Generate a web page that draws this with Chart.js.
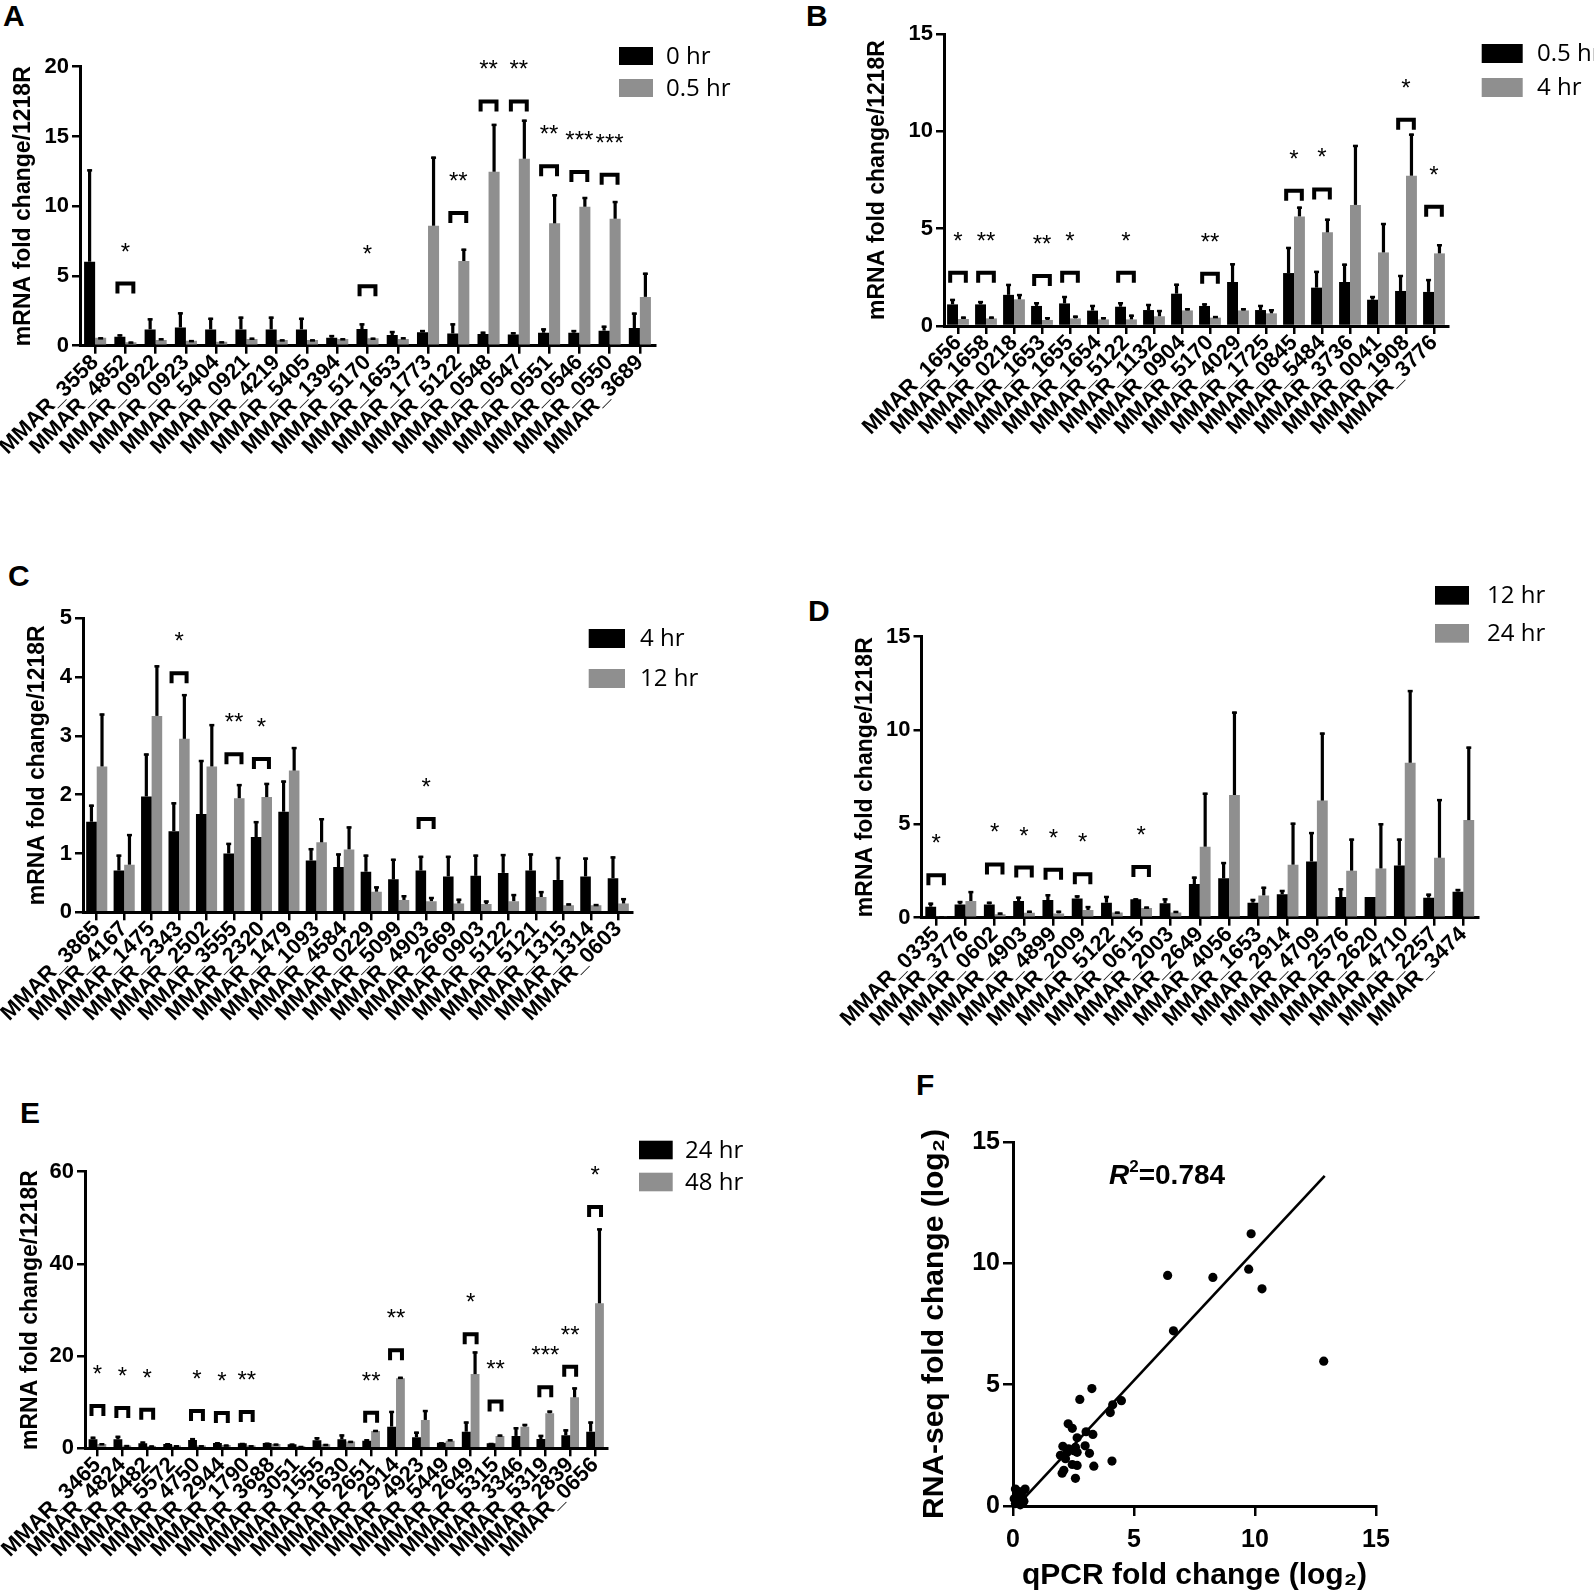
<!DOCTYPE html>
<html><head><meta charset="utf-8">
<script src="https://cdn.jsdelivr.net/npm/chart.js@4.4.1/dist/chart.umd.min.js"></script>
<style>
html,body{margin:0;padding:0;background:#fff;}
body{width:1594px;height:1594px;position:relative;overflow:hidden;}
canvas{position:absolute;}
.lbl{position:absolute;font:bold 30px 'Liberation Sans',Arial,sans-serif;line-height:30px;color:#000;}
</style></head><body>
<div class="lbl" style="left:3px;top:1px">A</div>
<div class="lbl" style="left:806px;top:1px">B</div>
<div class="lbl" style="left:8px;top:561px">C</div>
<div class="lbl" style="left:808px;top:596px">D</div>
<div class="lbl" style="left:20px;top:1098px">E</div>
<div class="lbl" style="left:916px;top:1070px">F</div>
<canvas id="cA" width="800" height="500" style="left:0;top:0"></canvas>
<canvas id="cB" width="794" height="500" style="left:800px;top:0"></canvas>
<canvas id="cC" width="800" height="520" style="left:0;top:540px"></canvas>
<canvas id="cD" width="794" height="520" style="left:800px;top:540px"></canvas>
<canvas id="cE" width="800" height="534" style="left:0;top:1060px"></canvas>
<canvas id="cF" width="794" height="554" style="left:800px;top:1040px"></canvas>
<script>
// ---------- Panel A ----------
const labelsA = ['MMAR_3558','MMAR_4852','MMAR_0922','MMAR_0923','MMAR_5404','MMAR_0921','MMAR_4219','MMAR_5405','MMAR_1394','MMAR_5170','MMAR_1653','MMAR_1773','MMAR_5122','MMAR_0548','MMAR_0547','MMAR_0551','MMAR_0546','MMAR_0550','MMAR_3689'];
const seriesA = ['0 hr','0.5 hr'];
const a0 = [6.02,0.65,1.17,1.31,1.17,1.17,1.17,1.17,0.57,1.19,0.76,0.96,0.88,0.84,0.81,0.93,0.93,1.08,1.27];
const a0sd = [6.62,0.16,0.79,1.08,0.83,0.91,0.91,0.83,0.19,0.41,0.29,0.16,0.72,0.16,0.15,0.31,0.19,0.35,1.1];
const a1 = [0.57,0.24,0.41,0.36,0.29,0.48,0.41,0.41,0.48,0.53,0.48,8.6,6.07,12.47,13.4,8.77,9.96,9.1,3.5];
const a1sd = [0.03,0.05,0.12,0.04,0.02,0.09,0.04,0.04,0.05,0.04,0.12,4.95,0.88,3.43,2.8,2.08,0.7,1.27,1.73];
const sigIdxA = [1,9,12,13,14,15,16,17];
const sigLvlA = [4.6,4.4,9.65,17.65,17.65,13.0,12.6,12.4];
const sigStarA = ['*','*','**','**','**','**','***','***'];
const ticksA = {max:20, step:5};

// ---------- Panel B ----------
const labelsB = ['MMAR_1656','MMAR_1658','MMAR_0218','MMAR_1653','MMAR_1655','MMAR_1654','MMAR_5122','MMAR_1132','MMAR_0904','MMAR_5170','MMAR_4029','MMAR_1725','MMAR_0845','MMAR_5484','MMAR_3736','MMAR_0041','MMAR_1908','MMAR_3776'];
const seriesB = ['0.5 hr','4 hr'];
const b0 = [1.11,1.11,1.6,1.03,1.16,0.79,0.99,0.82,1.66,1.03,2.26,0.82,2.72,1.97,2.26,1.35,1.8,1.75];
const b0sd = [0.28,0.17,0.56,0.19,0.38,0.29,0.23,0.31,0.51,0.13,0.96,0.26,1.34,0.86,0.94,0.19,0.82,0.66];
const b1 = [0.36,0.39,1.37,0.31,0.39,0.34,0.34,0.5,0.8,0.43,0.8,0.65,5.63,4.81,6.22,3.78,7.72,3.73];
const b1sd = [0.12,0.09,0.27,0.14,0.14,0.11,0.24,0.32,0.11,0.08,0.11,0.21,0.5,0.7,3.08,1.51,2.16,0.47];
const sigIdxB = [0,1,3,4,6,9,12,13,16,17];
const sigLvlB = [2.84,2.84,2.67,2.84,2.84,2.79,7.05,7.12,10.7,6.23];
const sigStarB = ['*','**','**','*','*','**','*','*','*','*'];
const ticksB = {max:15, step:5};

// ---------- Panel C ----------
const labelsC = ['MMAR_3865','MMAR_4167','MMAR_1475','MMAR_2343','MMAR_2502','MMAR_3555','MMAR_2320','MMAR_1479','MMAR_1093','MMAR_4584','MMAR_0229','MMAR_5099','MMAR_4903','MMAR_2669','MMAR_0903','MMAR_5122','MMAR_5121','MMAR_1315','MMAR_1314','MMAR_0603'];
const seriesC = ['4 hr','12 hr'];
const c0 = [1.54,0.71,1.97,1.38,1.67,1.0,1.28,1.71,0.88,0.77,0.69,0.56,0.71,0.61,0.62,0.67,0.71,0.55,0.61,0.58];
const c0sd = [0.29,0.27,0.73,0.49,0.92,0.18,0.27,0.53,0.21,0.23,0.29,0.35,0.25,0.35,0.36,0.32,0.29,0.39,0.32,0.37];
const c1 = [2.48,0.81,3.34,2.95,2.48,1.94,1.96,2.41,1.19,1.07,0.35,0.21,0.19,0.15,0.14,0.19,0.26,0.12,0.12,0.15];
const c1sd = [0.9,0.52,0.86,0.76,0.72,0.24,0.24,0.4,0.41,0.39,0.09,0.08,0.07,0.08,0.06,0.12,0.1,0.03,0.02,0.09];
const sigIdxC = [3,5,6,12];
const sigLvlC = [4.1,2.72,2.64,1.62];
const sigStarC = ['*','**','*','*'];
const ticksC = {max:5, step:1};

// ---------- Panel D ----------
const labelsD = ['MMAR_0335','MMAR_3776','MMAR_0602','MMAR_4903','MMAR_4899','MMAR_2009','MMAR_5122','MMAR_0615','MMAR_2003','MMAR_2649','MMAR_4056','MMAR_1653','MMAR_2914','MMAR_4709','MMAR_2576','MMAR_2620','MMAR_4710','MMAR_2257','MMAR_3474'];
const seriesD = ['12 hr','24 hr'];
const d0 = [0.59,0.71,0.71,0.89,0.94,1.03,0.8,0.98,0.77,1.8,2.1,0.8,1.25,3.0,1.1,1.1,2.78,1.07,1.39];
const d0sd = [0.21,0.18,0.14,0.23,0.31,0.16,0.36,0.05,0.26,0.39,0.87,0.2,0.23,1.57,0.47,0,1.44,0.21,0.14];
const d1 = [0.05,0.89,0.18,0.27,0.23,0.41,0.28,0.52,0.28,3.79,6.55,1.19,2.83,6.25,2.51,2.63,8.27,3.2,5.21];
const d1sd = [0.02,0.53,0.09,0.1,0.14,0.21,0.04,0.07,0.08,2.88,4.45,0.46,2.24,3.63,1.71,2.41,3.88,3.13,3.92];
const sigIdxD = [0,2,3,4,5,7];
const sigLvlD = [2.37,2.95,2.78,2.67,2.42,2.81];
const sigStarD = ['*','*','*','*','*','*'];
const ticksD = {max:15, step:5};

// ---------- Panel E ----------
const labelsE = ['MMAR_3465','MMAR_4824','MMAR_4482','MMAR_5572','MMAR_4750','MMAR_2944','MMAR_1790','MMAR_3688','MMAR_3051','MMAR_1555','MMAR_1630','MMAR_2651','MMAR_2914','MMAR_4923','MMAR_5449','MMAR_2649','MMAR_5315','MMAR_3346','MMAR_5319','MMAR_2839','MMAR_0656'];
const seriesE = ['24 hr','48 hr'];
const e0 = [1.95,1.95,1.1,0.95,1.8,1.15,1.1,1.15,0.87,1.75,1.95,1.66,4.7,2.4,1.23,3.6,1.08,2.68,2.0,2.82,3.6];
const e0sd = [0.55,0.75,0.35,0.15,0.4,0.15,0.05,0.05,0.13,0.65,1.05,0.29,3.4,1.2,0.07,2.2,0.07,1.88,0.9,1.28,2.2];
const e1 = [0.94,0.6,0.5,0.6,0.6,0.72,0.6,0.94,0.43,0.87,1.45,3.76,15.2,6.15,1.66,16.1,2.68,4.7,7.6,11.06,31.45];
const e1sd = [0.16,0.1,0.1,0.05,0.05,0.08,0.05,0.06,0.07,0.07,0.15,0.22,0.3,2.15,0.29,4.9,0.28,0.58,0.57,2.14,16.25];
const sigIdxE = [0,1,2,4,5,6,11,12,15,16,18,19,20];
const sigLvlE = [9.6,9.2,8.8,8.5,8.1,8.3,8.17,21.7,25.2,10.6,13.7,18.1,52.8];
const sigStarE = ['*','*','*','*','*','**','**','**','*','**','***','**','*'];
const ticksE = {max:60, step:20};

// ---------- Panel F ----------
const qpcrF = [9.84,6.39,8.26,9.74,10.29,6.63,12.84,3.26,2.76,4.48,4.12,4.02,2.28,2.45,3.02,3.3,2.65,2.98,2.06,2.51,2.24,2.65,3.16,1.96,2.17,4.09,2.45,2.65,3.34,2.1,2.03,2.58,2.3,2.58,0.1,0.2,0.4,0.2,0.1,0.3,0.5,0.4,0.15,0.3,0.45,0.05];
const rnaF  = [11.22,9.5,9.42,9.76,8.95,7.22,5.97,4.84,4.39,4.34,4.17,3.85,3.39,3.2,3.06,2.95,2.81,2.48,2.46,2.28,2.21,2.21,2.17,2.09,1.95,1.85,1.71,1.67,1.64,1.47,1.35,1.14,2.35,2.42,0.7,0.6,0.3,0.2,0.1,0.5,0.7,0.6,0.4,0.05,0.2,0.3];
const fitX = [0.3,12.88];
const fitY = [0.15,13.6];
const r2Text = '0.784';

const BLACK = '#000000', GRAY = '#8f8f8f';
const FONT = "'Liberation Sans', Arial, sans-serif";

const errBarPlugin = {
  id: 'errbars',
  afterDatasetsDraw(chart) {
    const ctx = chart.ctx, ys = chart.scales.y;
    chart.data.datasets.forEach((ds, i) => {
      if (!ds.sd) return;
      const meta = chart.getDatasetMeta(i);
      meta.data.forEach((bar, j) => {
        const sd = ds.sd[j];
        if (!sd) return;
        const top = ys.getPixelForValue(ds.data[j] + sd);
        ctx.save();
        ctx.strokeStyle = BLACK;
        ctx.lineWidth = 3.2;
        ctx.beginPath(); ctx.moveTo(bar.x, bar.y); ctx.lineTo(bar.x, top); ctx.stroke();
        ctx.lineWidth = 2.5;
        ctx.beginPath(); ctx.moveTo(bar.x - 2.5, top + 1); ctx.lineTo(bar.x + 2.5, top + 1); ctx.stroke();
        ctx.restore();
      });
    });
  }
};

function makeBrackets(idx, lvl, stars) {
  return {
    id: 'brackets',
    afterDatasetsDraw(chart) {
      const ctx = chart.ctx, ys = chart.scales.y;
      const m0 = chart.getDatasetMeta(0), m1 = chart.getDatasetMeta(1);
      idx.forEach((ci, k) => {
        const e0 = m0.data[ci], e1 = m1.data[ci];
        const cx = (e0.x + e1.x) / 2, hw = e0.width * 0.9;
        const top = ys.getPixelForValue(lvl[k]);
        ctx.save();
        ctx.strokeStyle = BLACK; ctx.lineWidth = 4; ctx.lineJoin = 'miter'; ctx.lineCap = 'butt';
        ctx.beginPath();
        ctx.moveTo(cx - hw + 2, top + 12);
        ctx.lineTo(cx - hw + 2, top + 2);
        ctx.lineTo(cx + hw - 2, top + 2);
        ctx.lineTo(cx + hw - 2, top + 12);
        ctx.stroke();
        ctx.fillStyle = BLACK;
        ctx.font = '24px ' + FONT;
        ctx.textAlign = 'center'; ctx.textBaseline = 'alphabetic';
        ctx.fillText(stars[k], cx, top - 22);
        ctx.restore();
      });
    }
  };
}

function makeLegend(pos) {
  return {
    id: 'customLegend',
    afterDraw(chart) {
      const ctx = chart.ctx;
      chart.data.datasets.forEach((ds, i) => {
        const y = pos.y + i * pos.row;
        ctx.save();
        ctx.fillStyle = ds.backgroundColor;
        ctx.fillRect(pos.x, y, pos.w, pos.h);
        ctx.fillStyle = BLACK;
        ctx.font = "24px 'Open Sans', 'Liberation Sans', sans-serif";
        ctx.textAlign = 'left'; ctx.textBaseline = 'middle';
        ctx.fillText(ds.label, pos.tx, y + pos.h / 2 + 1);
        ctx.restore();
      });
    }
  };
}

function barChart(id, labels, names, s0, s0sd, s1, s1sd, tk, sig, geo, leg) {
  const ctx = document.getElementById(id).getContext('2d');
  return new Chart(ctx, {
    type: 'bar',
    data: {
      labels: labels,
      datasets: [
        {label: names[0], data: s0, sd: s0sd, backgroundColor: BLACK, borderWidth: 0, categoryPercentage: geo.cat, barPercentage: 1},
        {label: names[1], data: s1, sd: s1sd, backgroundColor: GRAY, borderWidth: 0, categoryPercentage: geo.cat, barPercentage: 1}
      ]
    },
    options: {
      responsive: false, animation: false, events: [],
      layout: {padding: {left: 0, top: geo.top, right: geo.right, bottom: geo.bottom}},
      plugins: {legend: {display: false}, tooltip: {enabled: false}},
      scales: {
        x: {
          offset: true,
          grid: {display: true, drawOnChartArea: false, offset: false, tickLength: 8, lineWidth: 2.5, color: BLACK},
          border: {display: true, width: 3, color: BLACK},
          ticks: {autoSkip: false, minRotation: 45, maxRotation: 45, color: BLACK, padding: geo.xpad,
                  font: {family: FONT, weight: 'bold', size: 22}},
          afterFit(s) { s.height = geo.xh; s.paddingLeft = 0; s.paddingRight = 0; }
        },
        y: {
          min: 0, max: tk.max,
          ticks: {stepSize: tk.step, color: BLACK, padding: 3, font: {family: FONT, weight: 'bold', size: 22}},
          grid: {display: true, drawOnChartArea: false, tickLength: 8, lineWidth: 2.5, color: BLACK},
          border: {display: true, width: 3, color: BLACK},
          title: {display: true, text: 'mRNA fold change/1218R', color: BLACK,
                  font: {family: FONT, weight: 'bold', size: 23, lineHeight: 1}, padding: {top: geo.tpad, bottom: 0}},
          afterFit(s) { s.width = geo.yw; s.paddingTop = 0; s.paddingBottom = 0; }
        }
      }
    },
    plugins: [errBarPlugin, makeBrackets(sig[0], sig[1], sig[2]), makeLegend(leg)]
  });
}

barChart('cA', labelsA, seriesA, a0, a0sd, a1, a1sd, ticksA, [sigIdxA, sigLvlA, sigStarA],
  {cat: 0.73, top: 66.7, right: 145, bottom: 14.3, xh: 140, yw: 80, tpad: 12.5, xpad: -4},
  {x: 619, y: 47, w: 34, h: 18, row: 32, tx: 666});
barChart('cB', labelsB, seriesB, b0, b0sd, b1, b1sd, ticksB, [sigIdxB, sigLvlB, sigStarB],
  {cat: 0.78, top: 34, right: 146, bottom: 34, xh: 140, yw: 144, tpad: 66.5, xpad: -4},
  {x: 681.7, y: 44, w: 41, h: 19, row: 34, tx: 737});
barChart('cC', labelsC, seriesC, c0, c0sd, c1, c1sd, ticksC, [sigIdxC, sigLvlC, sigStarC],
  {cat: 0.77, top: 78.3, right: 168, bottom: 7.7, xh: 140, yw: 83, tpad: 26.5, xpad: -4},
  {x: 588.7, y: 89, w: 36.3, h: 19, row: 40, tx: 640});
barChart('cD', labelsD, seriesD, d0, d0sd, d1, d1sd, ticksD, [sigIdxD, sigLvlD, sigStarD],
  {cat: 0.74, top: 96.7, right: 116, bottom: 2.3, xh: 140, yw: 121.5, tpad: 54.5, xpad: -4},
  {x: 635, y: 46, w: 34, h: 18.7, row: 38, tx: 687});
barChart('cE', labelsE, seriesE, e0, e0sd, e1, e1sd, ticksE, [sigIdxE, sigLvlE, sigStarE],
  {cat: 0.71, top: 111.7, right: 192.5, bottom: 5.7, xh: 140, yw: 85, tpad: 19.5, xpad: -4},
  {x: 639, y: 80.7, w: 33.7, h: 18.6, row: 32, tx: 685});

// ---------- Scatter F ----------
const r2Plugin = {
  id: 'r2',
  afterDraw(chart) {
    const ctx = chart.ctx, a = chart.chartArea;
    let x = a.left + 96, y = a.top + 41.6;
    ctx.save();
    ctx.fillStyle = BLACK; ctx.textBaseline = 'alphabetic'; ctx.textAlign = 'left';
    ctx.font = 'italic bold 28px ' + FONT;
    ctx.fillText('R', x, y); x += ctx.measureText('R').width;
    ctx.font = 'bold 17px ' + FONT;
    ctx.fillText('2', x, y - 12); x += ctx.measureText('2').width;
    ctx.font = 'bold 28px ' + FONT;
    ctx.fillText('=' + r2Text, x, y);
    ctx.restore();
  }
};
new Chart(document.getElementById('cF').getContext('2d'), {
  type: 'scatter',
  data: {
    datasets: [
      {type: 'scatter', data: qpcrF.map((v, i) => ({x: v, y: rnaF[i]})), pointRadius: 4.6, backgroundColor: BLACK, borderWidth: 0, clip: false},
      {type: 'line', data: fitX.map((v, i) => ({x: v, y: fitY[i]})), borderColor: BLACK, borderWidth: 2.6, pointRadius: 0, fill: false, clip: false}
    ]
  },
  options: {
    responsive: false, animation: false, events: [],
    layout: {padding: {left: 0, top: 102, right: 218, bottom: 0}},
    plugins: {legend: {display: false}, tooltip: {enabled: false}},
    scales: {
      x: {
        type: 'linear', min: 0, max: 15,
        ticks: {stepSize: 5, color: BLACK, padding: 9, font: {family: FONT, weight: 'bold', size: 25}},
        grid: {display: true, drawOnChartArea: false, tickLength: 10, lineWidth: 2.5, color: BLACK},
        border: {display: true, width: 3, color: BLACK},
        title: {display: true, text: 'qPCR fold change (log\u2082)', color: BLACK,
                font: {family: FONT, weight: 'bold', size: 30, lineHeight: 1}, padding: {top: 0, bottom: 3}},
        afterFit(s) { s.height = 88; s.paddingLeft = 0; s.paddingRight = 0; }
      },
      y: {
        type: 'linear', min: 0, max: 15,
        ticks: {stepSize: 5, color: BLACK, padding: 3, font: {family: FONT, weight: 'bold', size: 25}},
        grid: {display: true, drawOnChartArea: false, tickLength: 10, lineWidth: 2.5, color: BLACK},
        border: {display: true, width: 3, color: BLACK},
        title: {display: true, text: 'RNA-seq fold change (log\u2082)', color: BLACK,
                font: {family: FONT, weight: 'bold', size: 30, lineHeight: 1}, padding: {top: 120, bottom: 0}},
        afterFit(s) { s.width = 213; s.paddingTop = 0; s.paddingBottom = 0; }
      }
    }
  },
  plugins: [r2Plugin]
});
</script>
</body></html>
